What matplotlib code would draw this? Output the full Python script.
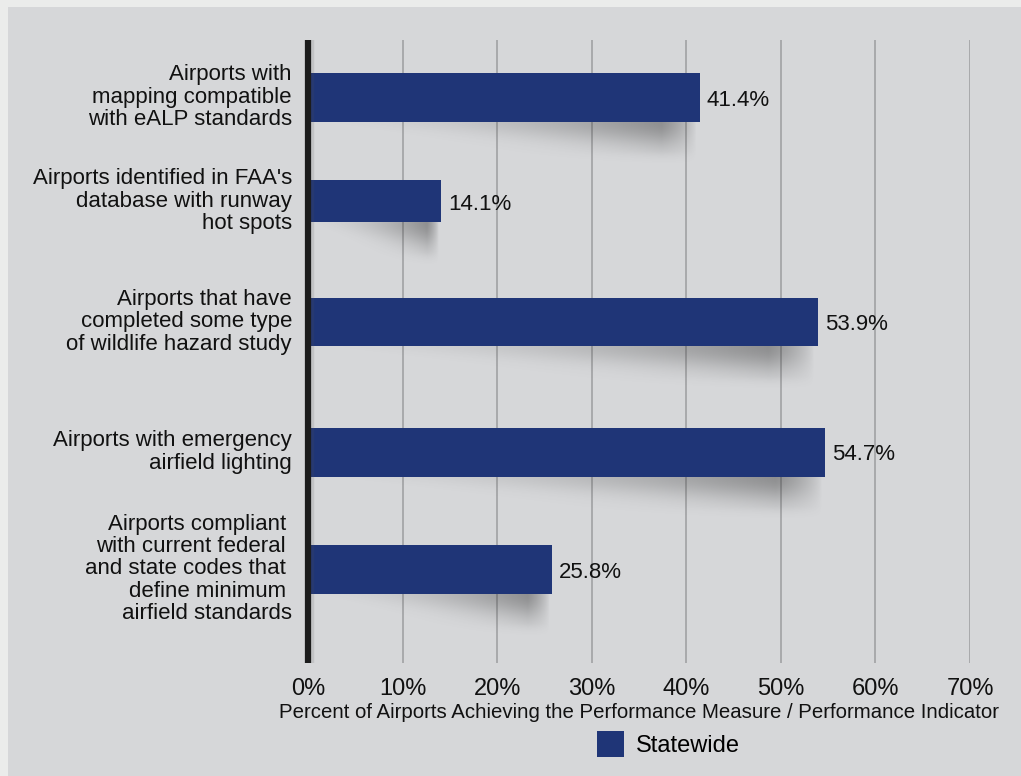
import numpy as np
import matplotlib
matplotlib.use("Agg")
import matplotlib.pyplot as plt
from matplotlib.patches import Rectangle, Patch

categories = [
    "Airports with\nmapping compatible\nwith eALP standards",
    "Airports identified in FAA's\ndatabase with runway\nhot spots",
    "Airports that have\ncompleted some type\nof wildlife hazard study",
    "Airports with emergency\nairfield lighting",
    "Airports compliant \nwith current federal \nand state codes that \ndefine minimum \nairfield standards",
]
values = [41.4, 14.1, 53.9, 54.7, 25.8]
value_labels = ["41.4%", "14.1%", "53.9%", "54.7%", "25.8%"]
xticks = [0, 10, 20, 30, 40, 50, 60, 70]
xtick_labels = ["0%", "10%", "20%", "30%", "40%", "50%", "60%", "70%"]
series_name = "Statewide"
xlabel = "Percent of Airports Achieving the Performance Measure / Performance Indicator"

# layout (pixel-like vertical coordinates inside axes)
centers = [97, 201, 322, 452, 569]
heights = [49, 42, 48, 49, 49]

W, H = 1021, 776
fig = plt.figure(figsize=(W / 100, H / 100), dpi=100)
fig.patch.set_facecolor("#ebeceb")
fig.patches.append(Rectangle((8 / W, 0), 1 - 8 / W, 1 - 7 / H, transform=fig.transFigure,
                             facecolor="#d6d7d9", edgecolor="none", zorder=-10))

top, bottom = 40, 663
left, right = 308, 970
ax = fig.add_axes([left / W, 1 - bottom / H, (right - left) / W, (bottom - top) / H])
ax.set_facecolor("none")
ax.set_xlim(0, 70)
ax.set_ylim(bottom, top)

bar_color = "#1f3577"
font = ["Liberation Sans", "DejaVu Sans"]

# soft drop shadows below the bars
for c, h, v in zip(centers, heights, values):
    yb = c + h / 2
    depth = 44
    nx, ny = 300, 110
    xs = np.linspace(0, 1, nx)
    ys = np.linspace(0, 1, ny)
    X, Y = np.meshgrid(xs, ys)
    lim = np.clip(0.05 + 0.85 * X, 1e-6, 1)
    vert = np.exp(-((Y / lim) * 1.4) ** 2) * np.clip((1 - Y) / 0.3, 0, 1)
    horiz = X ** 1.8 * np.clip((1 - X) / 0.09, 0, 1) ** 0.8
    alpha = 0.52 * horiz * vert
    rgba = np.zeros((ny, nx, 4))
    rgba[..., 0:3] = 0.2
    rgba[..., 3] = np.clip(alpha, 0, 1)
    ax.imshow(rgba, extent=[0, v - 0.3, yb + depth, yb], aspect="auto",
              interpolation="bilinear", zorder=1)

ax.barh(centers, values, height=heights, color=bar_color, zorder=3)

for c, v, lab in zip(centers, values, value_labels):
    ax.text(v + 0.75, c + 3, lab, va="center", ha="left", fontsize=16,
            family=font, color="#111111", zorder=4)

for c, cat in zip(centers, categories):
    ax.text(-16 / 9.457, c, cat, va="center", ha="right", multialignment="right",
            fontsize=16, family=font, color="#111111", linespacing=1.08)

ax.set_xticks(xticks)
ax.set_xticklabels(xtick_labels, family=font, fontsize=17, color="#111111")
ax.tick_params(axis="x", length=0, pad=11)
ax.set_yticks([])
ax.grid(axis="x", color="#a5a6a8", linewidth=1.3, zorder=0)
ax.set_axisbelow(True)
for s in ["top", "right", "bottom"]:
    ax.spines[s].set_visible(False)
ax.spines["left"].set_color("#1c1c1c")
ax.spines["left"].set_linewidth(4.5)
ax.spines["left"].set_capstyle("butt")
ax.spines["left"].set_zorder(5)
# faint shadow next to the axis line
ax.axvline(0.38, color="#555555", alpha=0.15, linewidth=2.5, zorder=4.5)

fig.text(639 / W, 1 - 712 / H, xlabel, ha="center", va="center", fontsize=14.7,
         family=font, color="#111111")

fig.legend(handles=[Patch(facecolor=bar_color, edgecolor="none")], labels=[series_name],
           loc="center", bbox_to_anchor=(668 / W, 1 - 744 / H), frameon=False,
           handlelength=1.15, handleheight=1.3, handletextpad=0.5,
           prop={"family": font, "size": 17})

fig.savefig("out.png", dpi=100, facecolor=fig.get_facecolor())
